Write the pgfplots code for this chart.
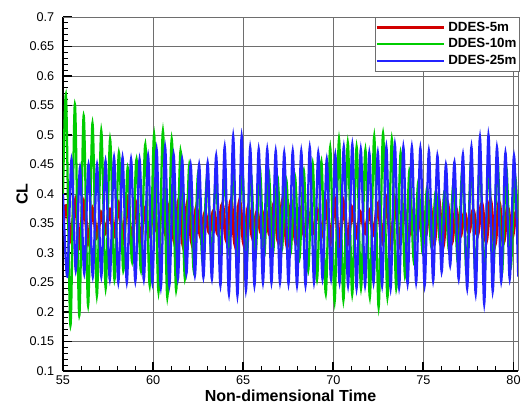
\documentclass[border=0pt]{standalone}
\usepackage{fontspec}
\setmainfont{Liberation Sans}
\usepackage{pgfplots}
\pgfplotsset{compat=1.18}
\definecolor{cRed}{RGB}{210,0,0}
\definecolor{cGreen}{RGB}{0,205,0}
\definecolor{cBlue}{RGB}{35,35,255}
\definecolor{cGrid}{RGB}{110,110,110}
\begin{document}
\begin{tikzpicture}
\begin{axis}[
 scale only axis, width=341.25pt, height=265.5pt,
 xmin=55, xmax=80.25, ymin=0.1, ymax=0.7,
 xtick distance=5, ytick distance=0.05,
 minor x tick num=4, minor y tick num=4,
 axis x line*=bottom, axis y line*=left,
 axis line style={black, line width=1.6pt, -},
 tick align=inside,
 major tick length=7pt, minor tick length=3.5pt,
 every tick/.style={black, line width=1.4pt},
 every minor tick/.style={black, line width=0.6pt},
 grid=major,
 major grid style={cGrid, line width=0.6pt},
 /pgf/number format/assume math mode=true,
 tick label style={font=\fontsize{9.5}{11}\selectfont},
 yticklabel style={/pgf/number format/fixed, /pgf/number format/precision=2, xshift=-3pt},
 xlabel={Non-dimensional Time}, ylabel={CL},
 label style={font=\bfseries\fontsize{12}{14}\selectfont},
 xlabel style={at={(axis description cs:0.5,-0.0706)}, anchor=center},
 ylabel style={at={(axis description cs:-0.0901,0.5)}, anchor=center},
 legend style={at={(axis description cs:0.6857,1)}, anchor=north west, draw=cGrid, fill=white,
   font=\bfseries\fontsize{10}{12}\selectfont, inner xsep=0pt, inner ysep=1.5pt, row sep=0pt},
 legend cell align=left,
 legend image code/.code={\path (0pt,0pt) -- (50.5pt,0pt); \draw[#1] (0pt,0pt) -- (46.5pt,0pt);},
 after end axis/.code={\draw[cGrid, line width=0.6pt] (rel axis cs:0,1) -- (rel axis cs:1,1) -- (rel axis cs:1,0);},
]
\addlegendimage{cRed, line width=2.3pt}
\addlegendentry{DDES-5m}
\addlegendimage{cGreen, line width=1.2pt}
\addlegendentry{DDES-10m}
\addlegendimage{cBlue, line width=1.2pt}
\addlegendentry{DDES-25m}
\addplot[cRed, line width=2.6pt, smooth, forget plot] coordinates {
(55.00,0.35)
(55.20,0.380) (55.44,0.322) (55.68,0.388) (55.92,0.315) (56.16,0.385) (56.40,0.318)
(56.64,0.375) (56.88,0.328) (57.12,0.368) (57.36,0.335) (57.60,0.372) (57.84,0.331)
(58.08,0.383) (58.32,0.320) (58.56,0.389) (58.80,0.313) (59.04,0.384) (59.28,0.318)
(59.52,0.374) (59.76,0.329) (60.00,0.367) (60.24,0.336) (60.48,0.373) (60.72,0.330)
(60.96,0.385) (61.20,0.318) (61.44,0.390) (61.68,0.312) (61.92,0.386) (62.16,0.317)
(62.40,0.376) (62.64,0.328) (62.88,0.368) (63.12,0.335) (63.36,0.371) (63.60,0.332)
(63.84,0.382) (64.08,0.321) (64.32,0.388) (64.56,0.314) (64.80,0.387) (65.04,0.316)
(65.28,0.377) (65.52,0.327) (65.76,0.369) (66.00,0.334) (66.24,0.372) (66.48,0.331)
(66.72,0.384) (66.96,0.319) (67.20,0.390) (67.44,0.312) (67.68,0.385) (67.92,0.318)
(68.16,0.375) (68.40,0.329) (68.64,0.367) (68.88,0.336) (69.12,0.372) (69.36,0.331)
(69.60,0.383) (69.84,0.320) (70.08,0.389) (70.32,0.313) (70.56,0.386) (70.80,0.317)
(71.04,0.376) (71.28,0.328) (71.52,0.368) (71.76,0.335) (72.00,0.371) (72.24,0.332)
(72.48,0.382) (72.72,0.321) (72.96,0.390) (73.20,0.313) (73.44,0.388) (73.68,0.315)
(73.92,0.377) (74.16,0.327) (74.40,0.369) (74.64,0.334) (74.88,0.373) (75.12,0.330)
(75.36,0.385) (75.60,0.318) (75.84,0.391) (76.08,0.311) (76.32,0.386) (76.56,0.317)
(76.80,0.375) (77.04,0.328) (77.28,0.368) (77.52,0.335) (77.76,0.372) (78.00,0.331)
(78.24,0.383) (78.48,0.320) (78.72,0.389) (78.96,0.314) (79.20,0.385) (79.44,0.318)
(79.68,0.376) (79.92,0.327) (80.16,0.370) (80.40,0.334)
};
\addplot[cGreen, line width=1.7pt, smooth, forget plot] coordinates {
(55.000,0.40)
(55.170,0.565) (55.414,0.177) (55.659,0.552) (55.903,0.194) (56.147,0.533) (56.392,0.211)
(56.636,0.520) (56.880,0.228) (57.124,0.507) (57.369,0.240) (57.613,0.493) (57.857,0.255)
(58.102,0.470) (58.346,0.270) (58.590,0.445) (58.834,0.285) (59.079,0.459) (59.323,0.270)
(59.567,0.484) (59.812,0.245) (60.056,0.501) (60.300,0.234) (60.545,0.507) (60.789,0.225)
(61.033,0.493) (61.278,0.237) (61.522,0.473) (61.766,0.256) (62.010,0.450) (62.255,0.270)
(62.499,0.435) (62.743,0.285) (62.988,0.428) (63.232,0.300) (63.476,0.422) (63.720,0.302)
(63.965,0.427) (64.209,0.300) (64.453,0.434) (64.698,0.290) (64.942,0.445) (65.186,0.285)
(65.431,0.434) (65.675,0.290) (65.919,0.445) (66.163,0.295) (66.408,0.440) (66.652,0.300)
(66.896,0.430) (67.141,0.305) (67.385,0.425) (67.629,0.300) (67.874,0.430) (68.118,0.290)
(68.362,0.440) (68.606,0.270) (68.851,0.453) (69.095,0.255) (69.339,0.455) (69.584,0.231)
(69.828,0.479) (70.072,0.217) (70.317,0.493) (70.561,0.220) (70.805,0.487) (71.049,0.230)
(71.294,0.480) (71.538,0.240) (71.782,0.475) (72.027,0.225) (72.271,0.498) (72.515,0.208)
(72.760,0.503) (73.004,0.225) (73.248,0.493) (73.492,0.240) (73.737,0.470) (73.981,0.260)
(74.225,0.440) (74.470,0.285) (74.714,0.420) (74.958,0.300) (75.203,0.410) (75.447,0.310)
(75.691,0.405) (75.935,0.315) (76.180,0.405) (76.424,0.304) (76.668,0.417) (76.913,0.284)
(77.157,0.440) (77.401,0.262) (77.646,0.455) (77.890,0.260) (78.134,0.459) (78.378,0.258)
(78.623,0.455) (78.867,0.262) (79.111,0.460) (79.356,0.265) (79.600,0.445) (79.844,0.275)
(80.089,0.430) (80.333,0.290)
};
\addplot[cBlue, line width=1.7pt, smooth, forget plot] coordinates {
(55.000,0.400) (55.236,0.260)
(55.472,0.459) (55.708,0.270) (55.944,0.445) (56.180,0.265) (56.417,0.450) (56.653,0.260)
(56.889,0.450) (57.125,0.260) (57.361,0.456) (57.597,0.255) (57.833,0.462) (58.069,0.250)
(58.305,0.462) (58.541,0.250) (58.778,0.459) (59.014,0.252) (59.250,0.459) (59.486,0.255)
(59.722,0.465) (59.958,0.250) (60.194,0.476) (60.430,0.242) (60.666,0.480) (60.902,0.245)
(61.139,0.467) (61.375,0.256) (61.611,0.459) (61.847,0.265) (62.083,0.450) (62.319,0.262)
(62.555,0.450) (62.791,0.259) (63.027,0.453) (63.263,0.256) (63.500,0.465) (63.736,0.245)
(63.972,0.480) (64.208,0.231) (64.444,0.498) (64.680,0.228) (64.916,0.498) (65.152,0.237)
(65.388,0.479) (65.624,0.245) (65.861,0.476) (66.097,0.250) (66.333,0.476) (66.569,0.250)
(66.805,0.473) (67.041,0.250) (67.277,0.470) (67.513,0.248) (67.749,0.473) (67.985,0.245)
(68.222,0.473) (68.458,0.245) (68.694,0.479) (68.930,0.250) (69.166,0.470) (69.402,0.256)
(69.638,0.459) (69.874,0.256) (70.110,0.467) (70.346,0.250) (70.583,0.480) (70.819,0.245)
(71.055,0.484) (71.291,0.240) (71.527,0.476) (71.763,0.245) (71.999,0.470) (72.235,0.250)
(72.471,0.470) (72.707,0.245) (72.944,0.480) (73.180,0.240) (73.416,0.484) (73.652,0.242)
(73.888,0.480) (74.124,0.248) (74.360,0.480) (74.596,0.250) (74.832,0.478) (75.068,0.245)
(75.305,0.473) (75.541,0.253) (75.777,0.465) (76.013,0.268) (76.249,0.450) (76.485,0.279)
(76.721,0.454) (76.957,0.256) (77.193,0.467) (77.429,0.240) (77.666,0.480) (77.902,0.231)
(78.138,0.496) (78.374,0.214) (78.610,0.500) (78.846,0.235) (79.082,0.479) (79.318,0.252)
(79.554,0.470) (79.790,0.256) (80.027,0.465) (80.263,0.260)
};
\end{axis}
\path (current axis.south west) +(-47.25pt,-25.5pt) (current axis.north east) +(6.75pt,12.75pt);
\end{tikzpicture}
\end{document}
